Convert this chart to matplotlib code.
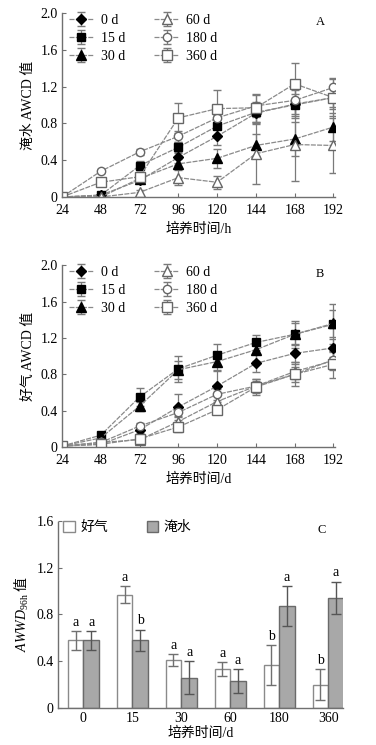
import numpy as np
import matplotlib
matplotlib.use('Agg')
import matplotlib.pyplot as plt

plt.rcParams['font.family'] = ['Liberation Serif', 'Noto Sans CJK SC']
plt.rcParams['mathtext.fontset'] = 'custom'
plt.rcParams['mathtext.rm'] = 'Liberation Serif'
plt.rcParams['mathtext.it'] = 'Liberation Serif:italic'
plt.rcParams['font.size'] = 10

# incubation times (h) for panels A and B
hours = [24, 48, 72, 96, 120, 144, 168, 192]
series_names = ['0 d', '15 d', '30 d', '60 d', '180 d', '360 d']

# panel A: flooded AWCD
flood_vals = {
    '0 d':   [0, 0.02, 0.18, 0.43, 0.66, 0.91, 1.01, 1.08],
    '15 d':  [0, 0.02, 0.34, 0.54, 0.77, 0.92, 1.00, 1.08],
    '30 d':  [0, 0.00, 0.20, 0.36, 0.42, 0.56, 0.63, 0.76],
    '60 d':  [0, 0.00, 0.05, 0.21, 0.16, 0.47, 0.57, 0.56],
    '180 d': [0, 0.28, 0.49, 0.66, 0.86, 0.99, 1.05, 1.19],
    '360 d': [0, 0.16, 0.22, 0.86, 0.96, 0.97, 1.23, 1.08],
}
flood_err = {
    '0 d':   [0, 0.01, 0.03, 0.06, 0.10, 0.12, 0.15, 0.12],
    '15 d':  [0, 0.02, 0.05, 0.06, 0.12, 0.10, 0.12, 0.10],
    '30 d':  [0, 0.01, 0.04, 0.05, 0.10, 0.12, 0.18, 0.15],
    '60 d':  [0, 0.01, 0.03, 0.08, 0.07, 0.33, 0.40, 0.30],
    '180 d': [0, 0.02, 0.03, 0.06, 0.10, 0.12, 0.15, 0.10],
    '360 d': [0, 0.02, 0.05, 0.16, 0.20, 0.15, 0.23, 0.20],
}

# panel B: aerobic AWCD
aer_vals = {
    '0 d':   [0.01, 0.03, 0.19, 0.44, 0.67, 0.92, 1.03, 1.09],
    '15 d':  [0.01, 0.13, 0.55, 0.86, 1.01, 1.15, 1.24, 1.35],
    '30 d':  [0.01, 0.10, 0.45, 0.85, 0.94, 1.07, 1.24, 1.36],
    '60 d':  [0.01, 0.05, 0.08, 0.28, 0.50, 0.67, 0.83, 0.95],
    '180 d': [0.01, 0.05, 0.23, 0.38, 0.58, 0.67, 0.80, 0.96],
    '360 d': [0.01, 0.03, 0.09, 0.22, 0.41, 0.66, 0.80, 0.91],
}
aer_err = {
    '0 d':   [0, 0.01, 0.04, 0.14, 0.18, 0.10, 0.10, 0.10],
    '15 d':  [0, 0.02, 0.10, 0.14, 0.12, 0.08, 0.15, 0.22],
    '30 d':  [0, 0.02, 0.05, 0.10, 0.10, 0.12, 0.12, 0.15],
    '60 d':  [0, 0.01, 0.03, 0.06, 0.07, 0.06, 0.08, 0.10],
    '180 d': [0, 0.01, 0.03, 0.05, 0.06, 0.08, 0.08, 0.10],
    '360 d': [0, 0.01, 0.03, 0.05, 0.05, 0.09, 0.13, 0.15],
}

# panel C: AWCD at 96 h
days = ['0', '15', '30', '60', '180', '360']
aer_96 = [0.58, 0.97, 0.41, 0.33, 0.37, 0.20]
aer_96_err = [0.08, 0.07, 0.05, 0.06, 0.17, 0.13]
flood_96 = [0.58, 0.58, 0.26, 0.23, 0.87, 0.94]
flood_96_err = [0.08, 0.09, 0.14, 0.10, 0.17, 0.14]
aer_letters = ['a', 'a', 'a', 'a', 'b', 'b']
flood_letters = ['a', 'b', 'a', 'a', 'a', 'a']

styles = {
    '0 d':   dict(marker='D', mfc='black', mec='black', ms=5),
    '15 d':  dict(marker='s', mfc='black', mec='black', ms=6),
    '30 d':  dict(marker='^', mfc='black', mec='black', ms=6.5),
    '60 d':  dict(marker='^', mfc='white', mec='#666666', ms=6.5),
    '180 d': dict(marker='o', mfc='white', mec='#666666', ms=6),
    '360 d': dict(marker='s', mfc='white', mec='#666666', ms=6.5),
}

line_col = '#8a8a8a'
spine_col = '#707070'


def style_axes(ax):
    for s in ['top', 'right']:
        ax.spines[s].set_visible(False)
    for s in ['left', 'bottom']:
        ax.spines[s].set_color(spine_col)
        ax.spines[s].set_linewidth(1.0)
        ax.spines[s].set_linestyle((0, (2, 1)))
    ax.tick_params(direction='in', length=3, color=spine_col, labelsize=10, pad=3)
    ax.tick_params(axis='x', pad=5)


def line_panel(ax, vals, errs, letter, xlabel, ylabel):
    for name in series_names:
        ax.errorbar(hours, vals[name], yerr=errs[name], color=line_col, lw=0.9,
                    ls=(0, (4, 1)), elinewidth=0.9, ecolor='#7a7a7a', capsize=3,
                    label=name, **styles[name])
    ax.set_xlim(24, 193)
    ax.set_ylim(0, 2.0)
    ax.set_xticks(hours)
    ax.set_yticks([0, 0.4, 0.8, 1.2, 1.6, 2.0])
    ax.set_yticklabels(['0', '0.4', '0.8', '1.2', '1.6', '2.0'])
    ax.set_xlabel(xlabel, labelpad=4)
    ax.set_ylabel(ylabel, labelpad=4)
    style_axes(ax)
    ax.text(0.945, 0.95, letter, transform=ax.transAxes, ha='center', va='center', fontsize=9)
    ax.legend(ncol=2, loc='upper left', bbox_to_anchor=(0.005, 1.025), frameon=False,
              borderaxespad=0.2, borderpad=0.2,
              handlelength=1.8, handletextpad=0.5, labelspacing=0.35, columnspacing=2.1,
              fontsize=10)


fig = plt.figure(figsize=(3.76, 7.45), dpi=100)

axA = fig.add_axes([0.165, 0.7356, 0.726, 0.247])
line_panel(axA, flood_vals, flood_err, 'A', '培养时间/h', '淹水 AWCD 值')

axB = fig.add_axes([0.165, 0.40, 0.726, 0.244])
line_panel(axB, aer_vals, aer_err, 'B', '培养时间/d', '好气 AWCD 值')

axC = fig.add_axes([0.154, 0.0497, 0.758, 0.251])
x = np.arange(len(days))
w = 0.32
axC.bar(x - w / 2, aer_96, w, color='white', edgecolor='#8a8a8a', lw=1.0, label='好气')
axC.bar(x + w / 2, flood_96, w, color='#a8a8a8', edgecolor='#6a6a6a', lw=1.0, label='淹水')
axC.errorbar(x - w / 2, aer_96, yerr=aer_96_err, fmt='none', ecolor='#707070',
             elinewidth=1.0, capsize=3.5)
axC.errorbar(x + w / 2, flood_96, yerr=flood_96_err, fmt='none', ecolor='#555555',
             elinewidth=1.0, capsize=3.5)
for i in range(len(days)):
    axC.text(x[i] - w / 2, aer_96[i] + aer_96_err[i] + 0.02, aer_letters[i],
             ha='center', va='bottom', fontsize=10)
    axC.text(x[i] + w / 2, flood_96[i] + flood_96_err[i] + 0.02, flood_letters[i],
             ha='center', va='bottom', fontsize=10)
axC.set_xlim(-0.52, 5.3)
axC.set_ylim(0, 1.6)
axC.set_xticks(x)
axC.set_xticklabels(days)
axC.set_yticks([0, 0.4, 0.8, 1.2, 1.6])
axC.set_yticklabels(['0', '0.4', '0.8', '1.2', '1.6'])
style_axes(axC)
axC.tick_params(axis='x', length=0, pad=3)
axC.set_xlabel('培养时间/d', labelpad=1)
axC.set_ylabel(r'$AWWD_{\mathrm{96h}}$ 值', labelpad=4, fontfamily='Noto Sans CJK SC')
axC.text(0.926, 0.95, 'C', transform=axC.transAxes, ha='center', va='center', fontsize=9)
axC.legend(ncol=2, loc='upper left', bbox_to_anchor=(0.0, 1.03), frameon=False,
           borderaxespad=0.2, borderpad=0.2,
           handlelength=0.8, handleheight=0.8, handletextpad=0.4, columnspacing=2.8,
           fontsize=10)

fig.savefig('out.png', dpi=100)
